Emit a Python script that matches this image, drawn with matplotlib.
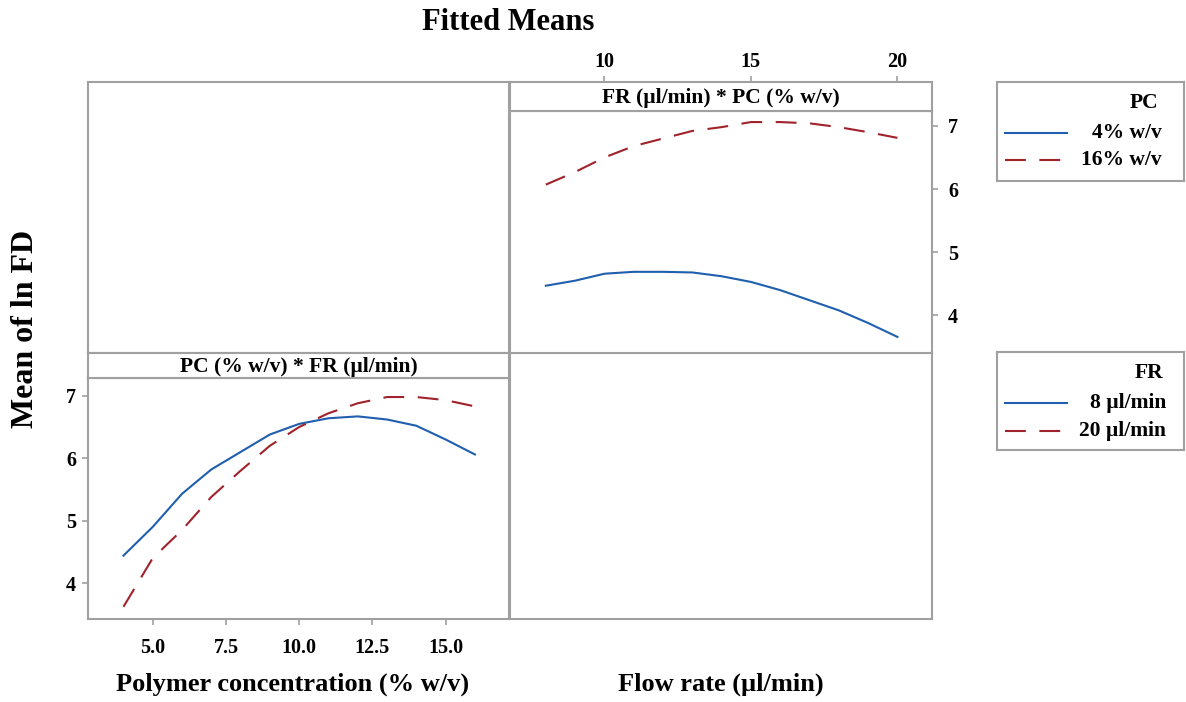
import matplotlib
matplotlib.use("Agg")
import matplotlib.pyplot as plt
from matplotlib.lines import Line2D

# ---------------- data ----------------
fr_levels = [8, 9, 10, 11, 12, 13, 14, 15, 16, 17, 18, 19, 20]
pc4_means = [4.47, 4.55, 4.66, 4.69, 4.69, 4.68, 4.62, 4.53, 4.40, 4.24, 4.08, 3.88, 3.66]
pc16_means = [6.07, 6.27, 6.50, 6.68, 6.80, 6.92, 6.98, 7.06, 7.06, 7.04, 6.98, 6.90, 6.81]

pc_levels = [4, 5, 6, 7, 8, 9, 10, 11, 12, 13, 14, 15, 16]
fr8_means = [4.44, 4.90, 5.43, 5.82, 6.10, 6.38, 6.55, 6.64, 6.67, 6.62, 6.52, 6.30, 6.06]
fr20_means = [3.62, 4.40, 4.85, 5.38, 5.80, 6.20, 6.50, 6.72, 6.88, 6.98, 6.98, 6.93, 6.83]

fr_ticks = [10, 15, 20]
pc_ticks = [5.0, 7.5, 10.0, 12.5, 15.0]
pc_ticklabels = ["5.0", "7.5", "10.0", "12.5", "15.0"]
y_ticks = [4, 5, 6, 7]

title = "Fitted Means"
ylabel = "Mean of ln FD"
xlabel_pc = "Polymer concentration (% w/v)"
xlabel_fr = "Flow rate (µl/min)"
strip_fr = "FR (µl/min) * PC (% w/v)"
strip_pc = "PC (% w/v) * FR (µl/min)"
legend_pc_title = "PC"
legend_pc_labels = ["4% w/v", "16% w/v"]
legend_fr_title = "FR"
legend_fr_labels = ["8 µl/min", "20 µl/min"]

# ---------------- style ----------------
W, H = 1186, 702
BLUE = "#1f5fae"
RED = "#a0222a"
GRAY = "#a0a0a0"
DASH = (0, (10, 6.5))
LW = 1.5
TICK_FS = 14.5

plt.rcParams['font.family'] = ['Liberation Serif', 'DejaVu Serif']
plt.rcParams['font.weight'] = 'bold'

fig = plt.figure(figsize=(W / 100, H / 100), dpi=100)


def rect(x0, y0, x1, y1):
    return [x0 / W, 1 - y1 / H, (x1 - x0) / W, (y1 - y0) / H]


def frame(ax):
    for s in ax.spines.values():
        s.set_color(GRAY)
        s.set_linewidth(1.5)


XL, XM, XR = 88, 509.5, 932
YT, YM, YB = 82, 352.7, 619.3
STRIP_T = 110.7
STRIP_B = 378.3

# empty cells
for r in [rect(XL, YT, XM, YM), rect(XM, YM, XR, YB)]:
    a = fig.add_axes(r)
    a.set_xticks([]); a.set_yticks([])
    frame(a)

# ---- top-right: FR * PC ----
ax1 = fig.add_axes(rect(XM, STRIP_T, XR, YM))
ax1.plot(fr_levels, pc4_means, color=BLUE, lw=LW)
ax1.plot(fr_levels, pc16_means, color=RED, lw=LW, linestyle=DASH)
ax1.set_xlim(6.76, 21.18)
ax1.set_ylim(3.41, 7.24)
ax1.yaxis.tick_right()
ax1.set_yticks(y_ticks)
ax1.tick_params(axis='y', direction='out', length=4.5, width=1.2, color=GRAY,
                labelsize=TICK_FS, pad=7)
frame(ax1)

s1 = fig.add_axes(rect(XM, YT, XR, STRIP_T), sharex=ax1)
s1.set_yticks([])
s1.xaxis.tick_top()
s1.set_xticks(fr_ticks)
s1.tick_params(axis='x', direction='out', length=4.5, width=1.2, color=GRAY,
               labelsize=TICK_FS, pad=3)
ax1.tick_params(axis='x', bottom=False, top=False, labelbottom=False, labeltop=False)
s1.text(0.5, 0.45, strip_fr, transform=s1.transAxes, ha='center', va='center',
        fontsize=15.5, fontweight='bold')
frame(s1)

# ---- bottom-left: PC * FR ----
ax2 = fig.add_axes(rect(XL, STRIP_B, XM, YB))
ax2.plot(pc_levels, fr8_means, color=BLUE, lw=LW)
ax2.plot(pc_levels, fr20_means, color=RED, lw=LW, linestyle=DASH)
ax2.set_xlim(2.79, 17.18)
ax2.set_ylim(3.42, 7.28)
ax2.set_xticks(pc_ticks)
ax2.set_xticklabels(pc_ticklabels)
ax2.set_yticks(y_ticks)
ax2.tick_params(axis='x', direction='out', length=4.5, width=1.2, color=GRAY,
                labelsize=TICK_FS, pad=9)
ax2.tick_params(axis='y', direction='out', length=4.5, width=1.2, color=GRAY,
                labelsize=TICK_FS, pad=4)
frame(ax2)

s2 = fig.add_axes(rect(XL, YM, XM, STRIP_B))
s2.set_xticks([]); s2.set_yticks([])
s2.text(0.5, 0.45, strip_pc, transform=s2.transAxes, ha='center', va='center',
        fontsize=15.5, fontweight='bold')
frame(s2)

# ---- figure texts ----
def ftext(x, y, s, **kw):
    fig.text(x / W, 1 - y / H, s, **kw)

ftext(508, 22, title, ha='center', va='center', fontsize=22, fontweight='bold')
ftext(26, 329, ylabel, ha='center', va='center', rotation=90, fontsize=23,
      fontweight='bold')
ftext(293, 684, xlabel_pc, ha='center', va='center', fontsize=19, fontweight='bold')
ftext(721, 684, xlabel_fr, ha='center', va='center', fontsize=19, fontweight='bold')

# ---- legends ----
def legend_box(x0, y0, x1, y1, ttl, labels, ys, ty, xr):
    la = fig.add_axes(rect(x0, y0, x1, y1))
    la.set_xticks([]); la.set_yticks([])
    la.patch.set_alpha(0)
    frame(la)
    ftext(xr - 3, ty, ttl, ha='right', va='center', fontsize=15.5, fontweight='bold')
    for lab, yy, col, ls in zip(labels, ys, [BLUE, RED], ['-', DASH]):
        fig.add_artist(Line2D([1005 / W, 1067 / W], [1 - yy / H, 1 - yy / H],
                              color=col, lw=LW, linestyle=ls))
        ftext(xr, yy, lab, ha='right', va='center', fontsize=15.5, fontweight='bold')

legend_box(997, 82.3, 1184.3, 180.7, legend_pc_title, legend_pc_labels,
           [133.3, 160], 103, 1161.5)
legend_box(997, 352.3, 1184.3, 450, legend_fr_title, legend_fr_labels,
           [403.3, 430.7], 373, 1166)

fig.savefig("out.png", dpi=100)
